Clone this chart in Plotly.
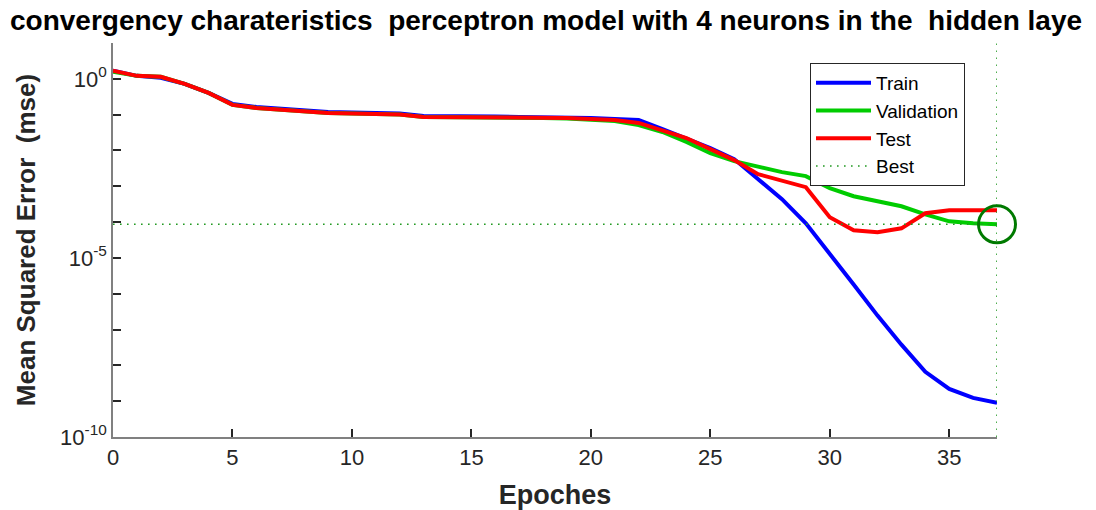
import plotly.graph_objects as go

epochs = list(range(38))

train_mse = [1.675, 1.21, 1.07, 0.724, 0.405, 0.1995, 0.164, 0.1445, 0.127, 0.119,
             0.1153, 0.1117, 0.108, 0.092, 0.092, 0.0891, 0.0891, 0.0862, 0.0862, 0.0835,
             0.0809, 0.0758, 0.0711, 0.0397, 0.0222, 0.01167, 0.00574, 0.00158, 4.36e-4, 9.25e-5,
             1.34e-5, 1.81e-6, 2.45e-7, 3.78e-8, 6.62e-9, 2.21e-9, 1.24e-9, 8.95e-10]

val_mse = [1.57, 1.21, 1.138, 0.724, 0.405, 0.187, 0.154, 0.1355, 0.119, 0.1117,
           0.108, 0.1047, 0.1014, 0.0862, 0.0862, 0.0835, 0.0835, 0.0809, 0.0809, 0.0783,
           0.0734, 0.0667, 0.0515, 0.0328, 0.0172, 0.00845, 0.00505, 0.00343, 0.00248, 0.00192,
           8.85e-4, 5.28e-4, 3.83e-4, 2.77e-4, 1.65e-4, 1.05e-4, 9.25e-5, 8.67e-5]

test_mse = [1.675, 1.21, 1.138, 0.724, 0.405, 0.187, 0.154, 0.1355, 0.119, 0.1117,
            0.108, 0.1047, 0.1014, 0.0862, 0.0862, 0.0862, 0.0835, 0.0835, 0.0809, 0.0809,
            0.0758, 0.0711, 0.0586, 0.0373, 0.0222, 0.01094, 0.00538, 0.00218, 0.00148, 9.44e-4,
            1.36e-4, 5.89e-5, 5.18e-5, 6.70e-5, 1.76e-4, 2.14e-4, 2.14e-4, 2.14e-4]

best_epoch = 37
best_mse = val_mse[best_epoch]

y_min, y_max = 1e-10, 1e1
x_min, x_max = 0, 37

y_tickvals = [1e-10, 1e-5, 1e0]
y_ticktext = ["10<sup>-10</sup>", "10<sup>-5</sup>", "10<sup>0</sup>"]
y_minorvals = [1e-9, 1e-8, 1e-7, 1e-6, 1e-4, 1e-3, 1e-2, 1e-1, 1e1]
x_tickvals = [0, 5, 10, 15, 20, 25, 30, 35]

title_text = "convergency charateristics  perceptron model with 4 neurons in the  hidden laye"

FONT = "Liberation Sans, Arial, sans-serif"
TXT = "#262626"

fig = go.Figure()
fig.add_trace(go.Scatter(x=epochs, y=train_mse, mode="lines", name="Train",
                         line=dict(color="#0000ff", width=4)))
fig.add_trace(go.Scatter(x=epochs, y=val_mse, mode="lines", name="Validation",
                         line=dict(color="#00cc00", width=4)))
fig.add_trace(go.Scatter(x=epochs, y=test_mse, mode="lines", name="Test",
                         line=dict(color="#ff0000", width=4)))
fig.add_trace(go.Scatter(x=[x_min, x_max, None, best_epoch, best_epoch],
                         y=[best_mse, best_mse, None, y_min, y_max],
                         mode="lines", name="Best",
                         line=dict(color="#229922", width=1.6, dash="1.6px,5.4px")))
fig.add_trace(go.Scatter(x=[best_epoch], y=[best_mse], mode="markers", showlegend=False,
                         marker=dict(symbol="circle-open", size=37, color="#007a00",
                                     line=dict(width=3, color="#007a00")),
                         cliponaxis=False))

fig.update_layout(
    width=1096, height=510,
    margin=dict(l=113, r=99, t=43, b=73),
    paper_bgcolor="white", plot_bgcolor="white",
    font=dict(family=FONT, color=TXT),
    title=dict(text=title_text, font=dict(size=28, color="black", family=FONT, weight="bold"),
               xref="container", x=10 / 1096, xanchor="left",
               yref="container", y=1 - 20 / 510, yanchor="middle", automargin=False),
    showlegend=True,
    legend=dict(x=(810 - 113) / 884, y=(437 - 63) / 394, xanchor="left", yanchor="top",
                bgcolor="white", bordercolor="#262626", borderwidth=1,
                font=dict(size=19, color="black", family=FONT),
                itemwidth=55, tracegroupgap=0),
)
fig.update_xaxes(
    range=[x_min, x_max], tickvals=x_tickvals, ticks="inside", ticklen=8, tickwidth=1.5,
    tickcolor=TXT, showline=True, linecolor="#808080", linewidth=1.5, showgrid=False,
    zeroline=False, tickfont=dict(size=22, color=TXT), mirror=False, automargin=False,
    title=dict(text="Epoches", font=dict(size=27, color=TXT, weight="bold"), standoff=18),
)
fig.update_yaxes(
    type="log", range=[-10, 1], tickvals=y_tickvals, ticktext=y_ticktext,
    ticks="inside", ticklen=8, tickwidth=1.5, tickcolor=TXT,
    minor=dict(tickvals=y_minorvals, ticks="inside", ticklen=8, tickwidth=1.5, tickcolor=TXT,
               showgrid=False),
    showline=True, linecolor="#808080", linewidth=1.5, showgrid=False, zeroline=False,
    tickfont=dict(size=22, color=TXT), mirror=False, automargin=False,
    title=dict(text="Mean Squared Error  (mse)", font=dict(size=26, color=TXT, weight="bold"),
               standoff=17),
)

fig.write_html("out.html")
